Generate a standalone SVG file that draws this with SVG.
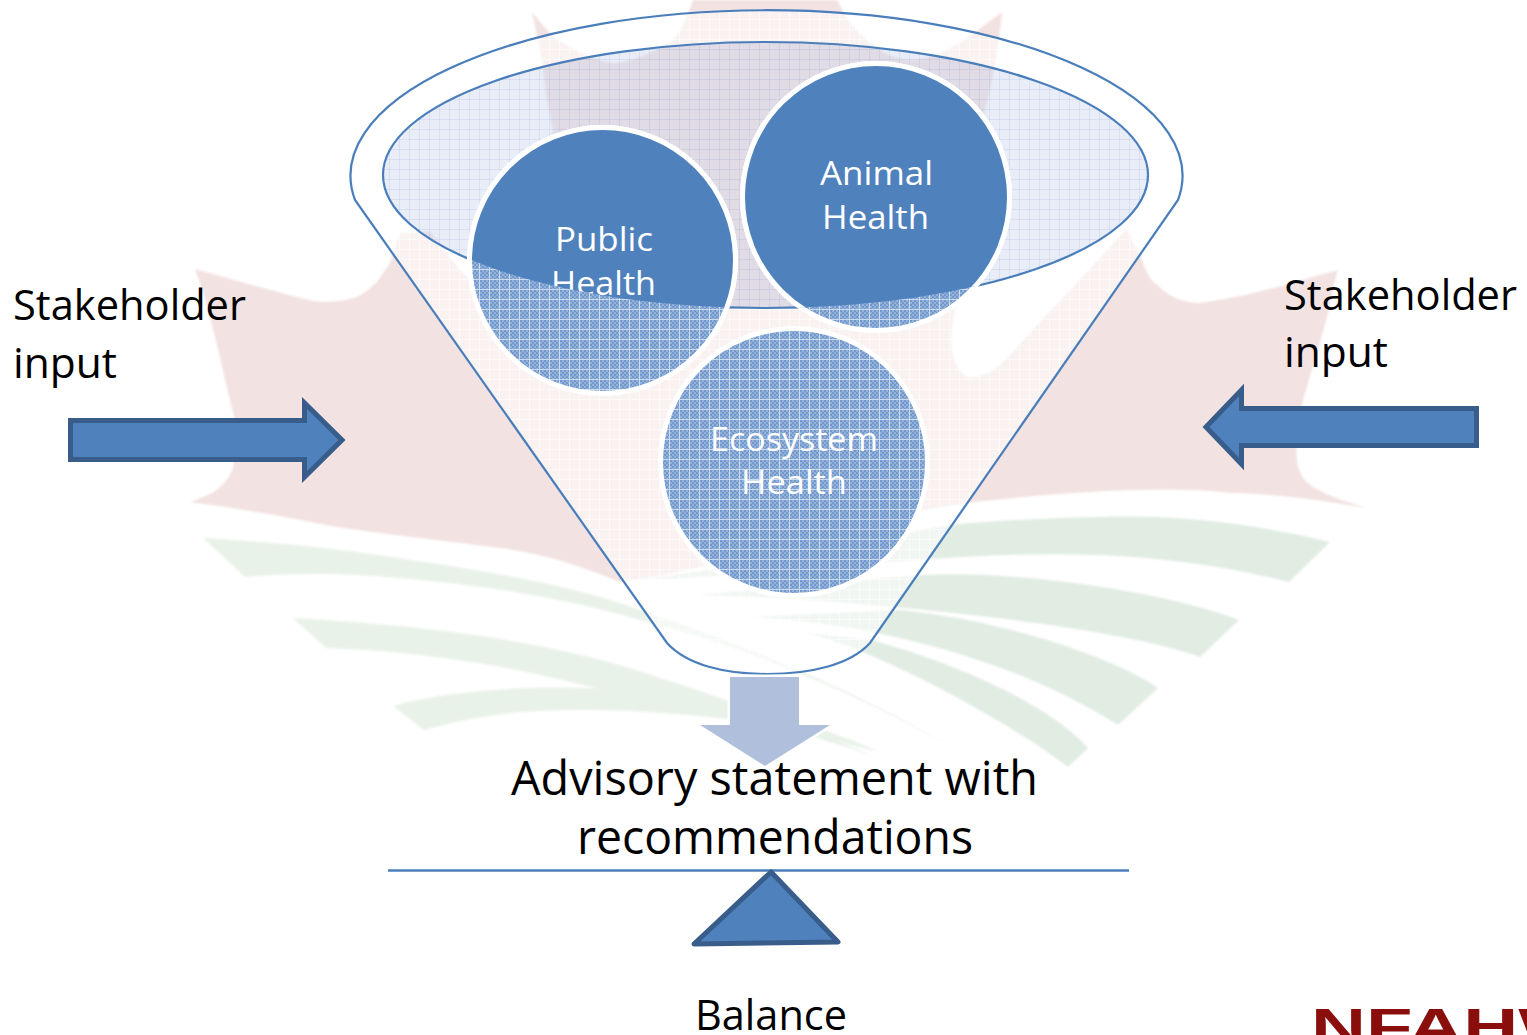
<svg xmlns="http://www.w3.org/2000/svg" width="1527" height="1035" viewBox="0 0 1527 1035">
<style>
text{font-family:"Open Sans","Noto Sans","DejaVu Sans",sans-serif}
.lab{font-size:42px;fill:#000}
.big{font-size:47px;fill:#000}
.wht{font-size:33px;fill:#fff}
.arrow{fill:#4f81bd;stroke:#385d8a;stroke-width:5}
.green1{fill:#e9f2e9}
.green2{fill:#e1ece3}
.disc{stroke:#fff;stroke-width:5}
</style>
<defs>
<filter id="soft" x="-5%" y="-5%" width="110%" height="110%"><feGaussianBlur stdDeviation="1"/></filter>
<pattern id="dBlue" width="4" height="4" patternUnits="userSpaceOnUse"><rect width="4" height="4" fill="#94b1da"/><rect width="2" height="2" fill="#7199cd"/><rect x="2" y="2" width="2" height="2" fill="#7199cd"/></pattern>
<pattern id="hBlue" width="10" height="10" patternUnits="userSpaceOnUse"><rect width="10" height="10" fill="url(#dBlue)"/><rect x="9" width="1" height="10" fill="#cddbef"/><rect y="9" width="10" height="1" fill="#cddbef"/></pattern>
<pattern id="hPale" width="10" height="10" patternUnits="userSpaceOnUse"><rect width="10" height="10" fill="#fff" fill-opacity=".3"/><rect width="10" height="10" fill="#4f72bd" fill-opacity=".13"/><rect x="9" width="1" height="10" fill="#4f72bd" fill-opacity=".1"/><rect y="9" width="10" height="1" fill="#4f72bd" fill-opacity=".1"/></pattern>
<pattern id="hWhite" width="10" height="10" patternUnits="userSpaceOnUse"><rect width="10" height="10" fill="#fff" fill-opacity=".55"/><rect x="9" width="1" height="10" fill="#fff" fill-opacity=".5"/><rect y="9" width="10" height="1" fill="#fff" fill-opacity=".5"/></pattern>
<clipPath id="inner"><ellipse cx="765.5" cy="175" rx="382.5" ry="133"/></clipPath>
<clipPath id="page"><rect width="1527" height="1035"/></clipPath>
</defs>
<rect id="background" width="1527" height="1035" fill="#fff"/>
<g id="watermark" filter="url(#soft)">
<path fill="#f2e2e1" d="M532 12C545 28 552 38 567 45C585 55 600 62 613 63C630 63 660 50 673 40C682 30 688 15 693 0L837 0C845 15 852 28 870 43C885 55 900 60 910 60C925 60 940 54 947 50C965 40 985 25 1002 12C998 50 992 85 985 110C975 180 962 270 955 310C950 335 950 350 955 362C960 375 968 378 975 377C990 375 1000 365 1010 355C1050 310 1100 260 1127 228C1132 240 1136 250 1140 255C1146 272 1150 280 1157 285C1170 298 1185 303 1200 303C1250 297 1300 280 1338 270C1333 285 1330 305 1327 317C1318 350 1310 375 1303 400C1298 425 1295 445 1297 463C1300 475 1305 482 1313 487C1330 497 1350 503 1367 508C1320 500 1280 494 1233 493C1200 489 1170 489 1133 490C1070 492 1010 498 967 503C945 506 925 509 900 517C830 538 760 555 700 567C670 574 650 578 620 582C580 565 540 553 500 548C440 540 390 535 337 527C290 518 240 508 190 502C205 497 215 492 220 487C228 480 232 473 233 467C236 450 236 435 235 420C230 400 225 380 220 357C212 325 205 295 195 269C235 280 275 292 313 301C330 303 345 301 357 297C370 290 378 282 383 273C390 265 392 258 393 253L400 233L430 232C442 248 453 262 465 275C480 290 490 298 500 300C520 250 540 180 553 130C549 110 545 90 543 70C540 50 536 30 532 12Z"/>
<path class="green1" d="M203 538C270 542 340 548 410 560C480 570 550 582 610 600C720 635 860 690 965 755C880 705 760 650 640 620C560 597 480 585 400 578C345 573 295 573 245 577Z"/>
<path class="green1" d="M293 618C360 622 425 627 488 637C550 647 610 660 657 677C730 700 810 730 876 757C800 730 720 712 650 700C600 690 550 675 490 665C430 655 380 650 326 648Z"/>
<path class="green1" d="M393 706C430 695 480 690 526 688C590 686 660 690 718 700C770 712 830 730 880 752C820 738 770 722 718 718C660 712 600 708 540 711C495 713 460 720 424 730Z"/>
<path class="green2" d="M1330 542C1260 525 1180 514 1103 517C1040 518 980 522 950 525C890 535 750 565 640 580C720 578 820 566 920 560C980 555 1040 553 1100 555C1170 558 1235 568 1289 582Z"/>
<path class="green2" d="M1239 620C1160 590 1010 570 920 575L695 595C800 596 1100 620 1200 657Z"/>
<path class="green2" d="M1158 688C1110 655 1000 620 900 610L750 617C850 622 1000 650 1118 725Z"/>
<path class="green2" d="M1088 748C1050 705 960 665 872 640L800 632C860 642 1000 715 1068 767Z"/>
</g>
<g id="funnel">
<path fill-rule="evenodd" d="M355 200A416 165.500 0 1 1 1178 200L870 643C850 665 810 674 767 674C725 674 687 665 667 643ZM383 175A382.500 133 0 1 0 1148 175A382.500 133 0 1 0 383 175Z" style="fill:url(#hWhite)"/>
<path d="M355 200A416 165.500 0 1 1 1178 200L870 643C850 665 810 674 767 674C725 674 687 665 667 643Z" fill="none" stroke="#4a7ebb" stroke-width="2.200"/>
<ellipse cx="765.500" cy="175" rx="382.500" ry="133" style="fill:url(#hPale)" stroke="#4a7ebb" stroke-width="2.200"/>
</g>
<g id="public-health">
<circle class="disc" cx="602.500" cy="260.500" r="133" fill="url(#hBlue)"/>
<g clip-path="url(#inner)">
<circle class="disc" cx="602.500" cy="260.500" r="133" fill="#4f81bd"/>
<text class="wht" x="555" y="251" textLength="98" lengthAdjust="spacingAndGlyphs">Public</text>
<text class="wht" x="551" y="295" textLength="105" lengthAdjust="spacingAndGlyphs">Health</text>
</g>
</g>
<g id="animal-health">
<circle class="disc" cx="876" cy="197" r="133.500" fill="url(#hBlue)"/>
<g clip-path="url(#inner)">
<circle class="disc" cx="876" cy="197" r="133.500" fill="#4f81bd"/>
<text class="wht" x="820" y="185" textLength="113" lengthAdjust="spacingAndGlyphs">Animal</text>
<text class="wht" x="822" y="229" textLength="107" lengthAdjust="spacingAndGlyphs">Health</text>
</g>
</g>
<g id="ecosystem-health">
<circle class="disc" cx="794" cy="462" r="133.500" fill="url(#hBlue)"/>
<text class="wht" x="710" y="451" textLength="168" lengthAdjust="spacingAndGlyphs">Ecosystem</text>
<text class="wht" x="741" y="494" textLength="106" lengthAdjust="spacingAndGlyphs">Health</text>
</g>
<g id="connectors">
<path class="arrow" d="M70.500 420.500H304.500V403L342 440L304.500 477V459.500H70.500Z"/>
<path class="arrow" d="M1476.500 408.500H1241.500V390L1206 427L1241.500 464V445.500H1476.500Z"/>
<path d="M730 677H799V725H830L765 766L700 725H730Z" fill="#b0c0dc" stroke="#fff" stroke-width="5"/>
<path d="M730 677H799V725H830L765 766L700 725H730Z" fill="#b0c0dc"/>
</g>
<g id="stakeholder-left">
<text class="lab" x="13" y="320" textLength="233" lengthAdjust="spacingAndGlyphs">Stakeholder</text>
<text class="lab" x="13" y="378" textLength="104" lengthAdjust="spacingAndGlyphs">input</text>
</g>
<g id="stakeholder-right">
<text class="lab" x="1284" y="310" textLength="233" lengthAdjust="spacingAndGlyphs">Stakeholder</text>
<text class="lab" x="1284" y="367" textLength="104" lengthAdjust="spacingAndGlyphs">input</text>
</g>
<g id="advisory">
<text class="big" x="511" y="795" textLength="527" lengthAdjust="spacingAndGlyphs">Advisory statement with</text>
<text class="big" x="577" y="854" textLength="396" lengthAdjust="spacingAndGlyphs">recommendations</text>
</g>
<g id="balance">
<path d="M388 870.500H1129" stroke="#4a7ebb" stroke-width="2.500" fill="none"/>
<path d="M771 872L838 942L694 944Z" fill="#4f81bd" stroke="#385d8a" stroke-width="5" stroke-linejoin="round"/>
<text class="lab" x="695" y="1030" textLength="152" lengthAdjust="spacingAndGlyphs">Balance</text>
</g>
<g id="logo" clip-path="url(#page)">
<text x="1311" y="1044" font-size="50" fill="#8a0f0c" textLength="279" lengthAdjust="spacingAndGlyphs" style="font-family:'Liberation Sans',Arial,sans-serif" font-weight="700">NFAHW</text>
</g>
</svg>
